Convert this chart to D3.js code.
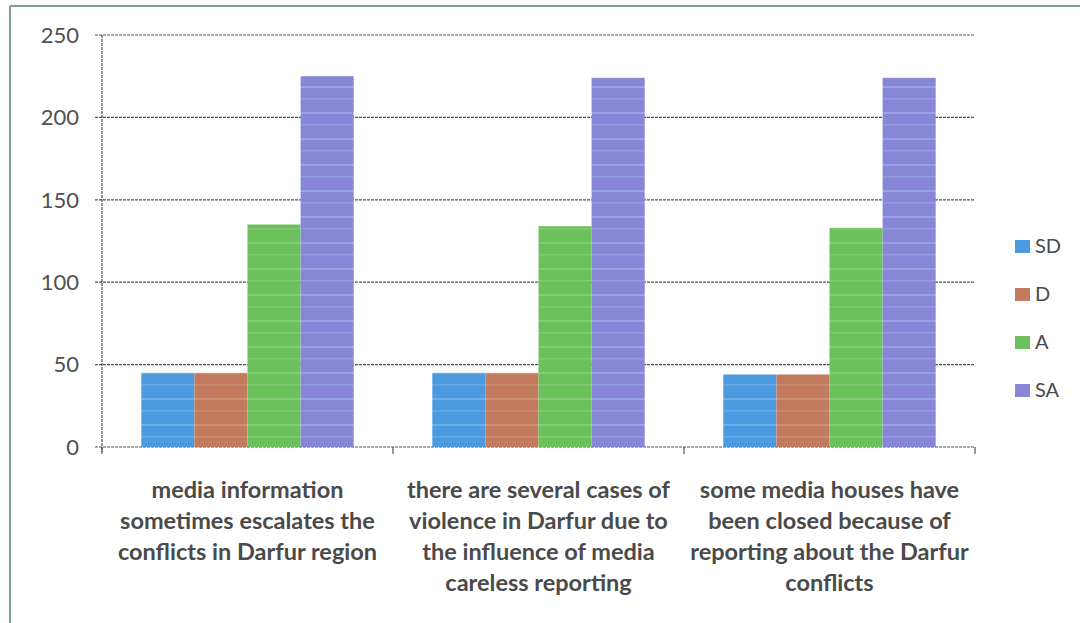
<!DOCTYPE html>
<html><head><meta charset="utf-8">
<script src="https://cdn.jsdelivr.net/npm/d3@7"></script>
<style>body{margin:0;background:#fff;} svg{display:block;}</style>
</head><body>
<svg id="chart" width="1080" height="623"></svg>
<script>
const categories = [
  ["media information","sometimes escalates the","conflicts in Darfur region"],
  ["there are several cases of","violence in Darfur due to","the influence of media","careless reporting"],
  ["some media houses have","been closed because of","reporting about the Darfur","conflicts"]
];
const seriesNames = ["SD","D","A","SA"];
const SD = [45,45,44];
const D  = [45,45,44];
const A  = [135,134,133];
const SA = [225,224,224];
const yTicks = [0,50,100,150,200,250];
const colors = ["#4c9be0","#c27b5e","#6cc15d","#8886d6"];
const stripeColors = ["#7ab8ea","#d49a80","#8fd284","#9fb0e6"];

(function(){
const values = [SD,D,A,SA];
const svg = d3.select("#chart");
const pL=102, pR=975, pT=35, pB=447;
const x0 = d3.scaleBand().domain(d3.range(categories.length)).range([pL,pR]).paddingInner(0).paddingOuter(0);
const x1 = d3.scaleBand().domain(seriesNames).range([0,x0.bandwidth()]).paddingOuter(0.74);
const y = d3.scaleLinear().domain([0,250]).range([pB,pT]);

// patterns for scanned-stripe look
const defs = svg.append("defs");
colors.forEach((c,j)=>{
  const p = defs.append("pattern").attr("id","pat"+j).attr("patternUnits","userSpaceOnUse")
    .attr("width",10).attr("height",26);
  p.append("rect").attr("width",10).attr("height",26).attr("fill",c);
  p.append("rect").attr("y",8).attr("width",10).attr("height",2).attr("fill",stripeColors[j]).attr("opacity",0.7);
  p.append("rect").attr("y",20).attr("width",10).attr("height",1.5).attr("fill",stripeColors[j]).attr("opacity",0.5);
});

// outer border
svg.append("line").attr("x1",10).attr("x2",10).attr("y1",6).attr("y2",623).attr("stroke","#7f9e94").attr("stroke-width",2);
svg.append("line").attr("x1",10).attr("x2",1080).attr("y1",6).attr("y2",6).attr("stroke","#7f9e94").attr("stroke-width",2);

const gridColor="#4a5852";
svg.append("g").selectAll("line").data(yTicks).join("line")
  .attr("x1",95).attr("x2",pR).attr("y1",d=>y(d)).attr("y2",d=>y(d))
  .attr("stroke",gridColor).attr("stroke-width",1.2).attr("stroke-dasharray","3,1");
svg.append("line").attr("x1",pL).attr("x2",pL).attr("y1",pT).attr("y2",pB+5)
  .attr("stroke",gridColor).attr("stroke-width",1.2).attr("stroke-dasharray","3,1");
const bounds = d3.range(categories.length+1).map(i=> i<categories.length ? x0(i) : x0(categories.length-1)+x0.bandwidth());
svg.append("g").selectAll("line").data(bounds).join("line")
  .attr("x1",d=>d).attr("x2",d=>d).attr("y1",pB).attr("y2",pB+7)
  .attr("stroke",gridColor).attr("stroke-width",1.2);

svg.append("g").selectAll("text").data(yTicks).join("text")
  .attr("x",79).attr("y",d=>y(d)).attr("dy","0.35em").attr("text-anchor","end")
  .attr("font-family","Lato, 'Open Sans', sans-serif").attr("font-size",22).attr("fill","#505050")
  .text(d=>d);

const g = svg.append("g");
categories.forEach((c,i)=>{
  seriesNames.forEach((s,j)=>{
    g.append("rect").attr("x",x0(i)+x1(s)).attr("width",x1.bandwidth())
      .attr("y",y(values[j][i])).attr("height",y(0)-y(values[j][i]))
      .attr("fill","url(#pat"+j+")");
  });
});

categories.forEach((lines,i)=>{
  const t = svg.append("text").attr("text-anchor","middle")
    .attr("font-family","Lato, 'Open Sans', sans-serif").attr("font-size",23.5).attr("font-weight","bold").attr("fill","#4a4a4a");
  lines.forEach((l,k)=>{
    t.append("tspan").attr("x",x0(i)+x0.bandwidth()/2).attr("y",498+k*31).text(l);
  });
});

const lg = svg.append("g");
seriesNames.forEach((s,j)=>{
  const yy = 246 + j*48;
  lg.append("rect").attr("x",1015).attr("y",yy-6).attr("width",15).attr("height",13).attr("fill",colors[j]);
  lg.append("text").attr("x",1035).attr("y",yy).attr("dy","0.35em")
    .attr("font-family","Lato, 'Open Sans', sans-serif").attr("font-size",20).attr("fill","#4a4a4a").text(s);
});
})();
</script>
</body></html>
